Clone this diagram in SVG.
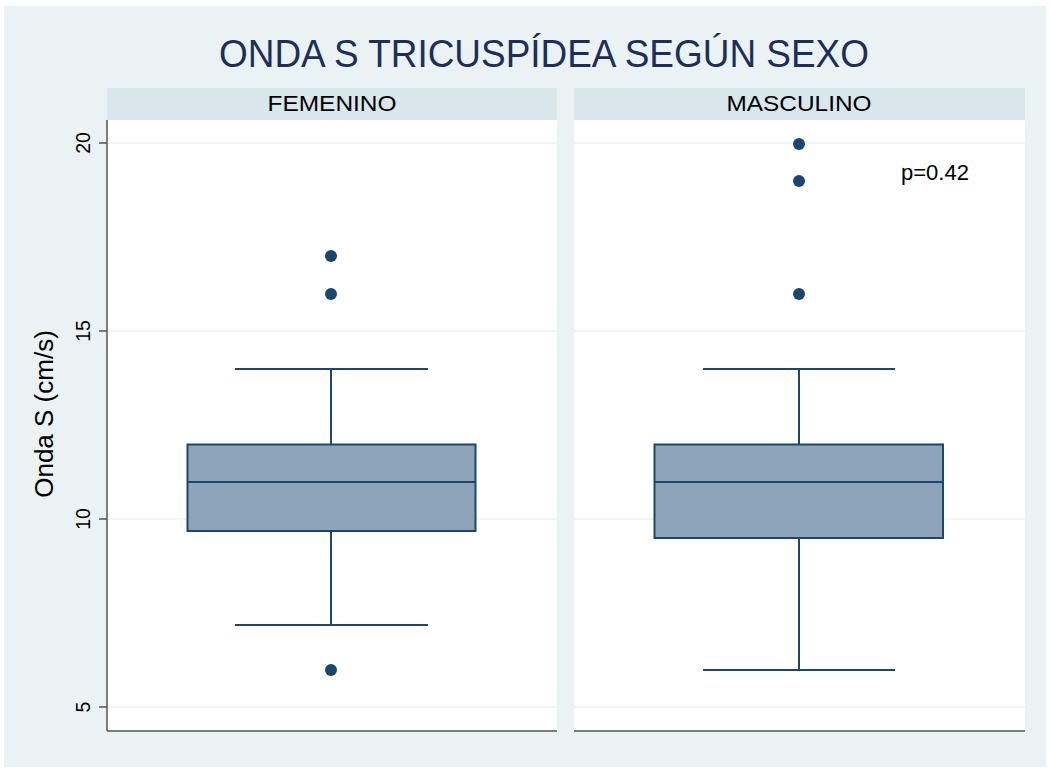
<svg xmlns="http://www.w3.org/2000/svg" width="1050" height="770" viewBox="0 0 1050 770">
<style>
text{font-family:"Liberation Sans",Arial,sans-serif;fill:#000}
.grid{stroke:#EAF2F3;stroke-width:1.5}
.axis{stroke:#555;stroke-width:1.5}
.strip{fill:#D9E6EB}
.plot{fill:#fff}
.box{fill:#8DA4B8;stroke:#1a476f;stroke-width:2}
.ln{stroke:#1a476f;stroke-width:2;fill:none}
.dot{fill:#1a476f}
.tick{font-size:19.5px;text-anchor:middle}
.hdr{font-size:22px;text-anchor:middle}
</style>
<rect x="0" y="0" width="1050" height="770" fill="#fff"/>
<rect x="4" y="6" width="1042" height="761" fill="#EAF2F3"/>
<text x="544" y="67" font-size="38" text-anchor="middle" textLength="650" lengthAdjust="spacingAndGlyphs" style="fill:#1c2f5c">ONDA S TRICUSPÍDEA SEGÚN SEXO</text>

<g id="panel-femenino">
<rect class="strip" x="107" y="88" width="450" height="32"/>
<text class="hdr" x="332" y="111" textLength="129" lengthAdjust="spacingAndGlyphs">FEMENINO</text>
<rect class="plot" x="107" y="120" width="450" height="611"/>
<line class="grid" x1="107" y1="143" x2="557" y2="143"/>
<line class="grid" x1="107" y1="331" x2="557" y2="331"/>
<line class="grid" x1="107" y1="519" x2="557" y2="519"/>
<line class="grid" x1="107" y1="707" x2="557" y2="707"/>
</g>
<g id="panel-masculino">
<rect class="strip" x="574" y="88" width="451" height="32"/>
<text class="hdr" x="799" y="111" textLength="145" lengthAdjust="spacingAndGlyphs">MASCULINO</text>
<rect class="plot" x="574" y="120" width="451" height="611"/>
<line class="grid" x1="574" y1="143" x2="1025" y2="143"/>
<line class="grid" x1="574" y1="331" x2="1025" y2="331"/>
<line class="grid" x1="574" y1="519" x2="1025" y2="519"/>
<line class="grid" x1="574" y1="707" x2="1025" y2="707"/>
</g>

<g id="axes">
<line class="axis" x1="107" y1="120" x2="107" y2="731"/>
<line class="axis" x1="107" y1="731" x2="557" y2="731"/>
<line class="axis" x1="574" y1="731" x2="1025" y2="731"/>
<line class="axis" x1="99" y1="143" x2="107" y2="143"/>
<line class="axis" x1="99" y1="331" x2="107" y2="331"/>
<line class="axis" x1="99" y1="519" x2="107" y2="519"/>
<line class="axis" x1="99" y1="707" x2="107" y2="707"/>
<text class="tick" transform="translate(90,143) rotate(-90)">20</text>
<text class="tick" transform="translate(90,331) rotate(-90)">15</text>
<text class="tick" transform="translate(90,519) rotate(-90)">10</text>
<text class="tick" transform="translate(90,707) rotate(-90)">5</text>
<text transform="translate(53,414) rotate(-90)" font-size="26" text-anchor="middle">Onda S (cm/s)</text>
</g>

<g id="box-femenino">
<line class="ln" x1="331" y1="369" x2="331" y2="444"/>
<line class="ln" x1="331" y1="531" x2="331" y2="625"/>
<line class="ln" x1="235" y1="369" x2="428" y2="369"/>
<line class="ln" x1="235" y1="625" x2="428" y2="625"/>
<rect class="box" x="187.5" y="444.5" width="288" height="86.5"/>
<line class="ln" x1="187.5" y1="482" x2="475.5" y2="482"/>
<circle class="dot" cx="331" cy="256" r="6"/>
<circle class="dot" cx="331" cy="294" r="6"/>
<circle class="dot" cx="331" cy="670" r="6"/>
</g>

<g id="box-masculino">
<line class="ln" x1="799" y1="369" x2="799" y2="444"/>
<line class="ln" x1="799" y1="538" x2="799" y2="670"/>
<line class="ln" x1="703" y1="369" x2="895" y2="369"/>
<line class="ln" x1="703" y1="670" x2="895" y2="670"/>
<rect class="box" x="654.5" y="444.5" width="288.5" height="93.5"/>
<line class="ln" x1="654.5" y1="482" x2="943" y2="482"/>
<circle class="dot" cx="799" cy="144" r="6"/>
<circle class="dot" cx="799" cy="181" r="6"/>
<circle class="dot" cx="799" cy="294" r="6"/>
</g>

<text x="901" y="180" font-size="22" textLength="68" lengthAdjust="spacingAndGlyphs">p=0.42</text>
</svg>
